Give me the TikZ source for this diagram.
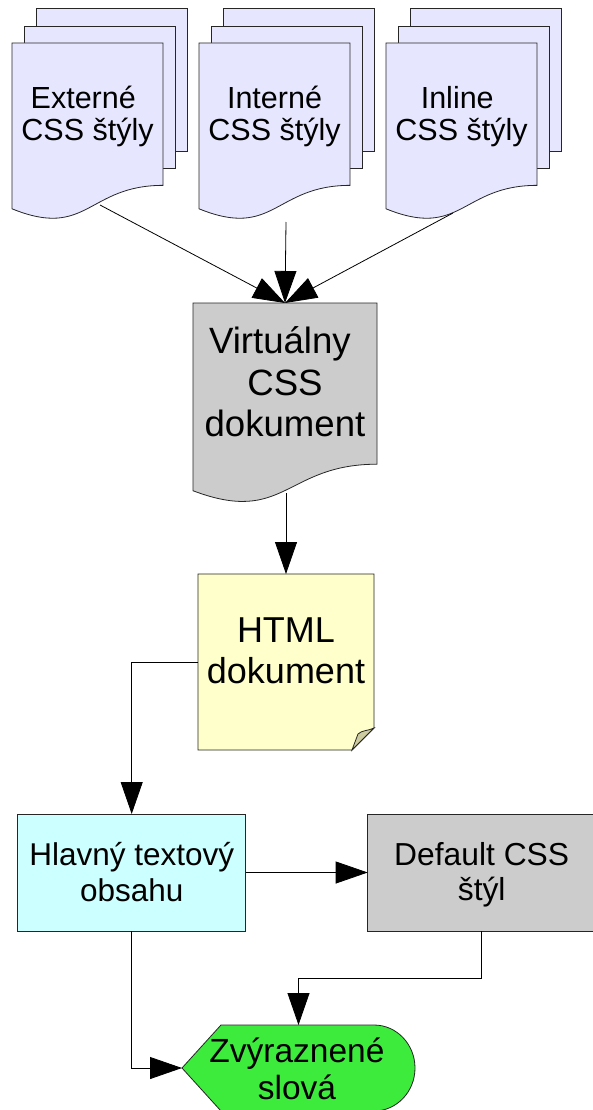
\documentclass[tikz,border=0pt]{standalone}
\usepackage{fontspec}
\setmainfont{Liberation Sans}
\usetikzlibrary{arrows.meta}

\definecolor{pagefill}{RGB}{230,230,255}
\definecolor{greyfill}{RGB}{204,204,204}
\definecolor{notefill}{RGB}{255,255,204}
\definecolor{foldfill}{RGB}{205,204,160}
\definecolor{cyanfill}{RGB}{204,255,255}
\definecolor{greenfill}{RGB}{61,235,61}

% several centred lines, baseline of the box = baseline of the first line
\newcommand\textlines[1]{\begin{tabular}[t]{@{}c@{}}#1\end{tabular}}

% flowchart "document" outline: fill, left, top, width, height
\newcommand\docshape[5]{%
  \path[shapeline,fill=#1] (#2,#3) -- ({#2+#4},#3) -- ({#2+#4},{#3+0.802*#5})
    .. controls ({#2+0.5*#4},{#3+0.802*#5}) and ({#2+0.5*#4},{#3+1.1075*#5})
    .. (#2,{#3+0.934*#5}) -- cycle;}

% a stack of three pages, given the left edge of the front page
\newcommand\docstack[1]{%
  \path[shapeline,fill=pagefill] ({#1+24},8) rectangle ({#1+175},151);
  \path[shapeline,fill=pagefill] ({#1+12},26) rectangle ({#1+163},168);
  \docshape{pagefill}{#1}{43}{151}{177.5}}

\begin{document}
\begin{tikzpicture}[x=1pt,y=-1pt,
  shapeline/.style={draw=black!85,line width=0.8pt},
  conn/.style={draw=black,line width=0.8pt,-{Triangle[length=32pt,width=22pt]}},
  box/.style 2 args={inner sep=0pt,outer sep=0pt,minimum width=#1,minimum height=#2},
  txt/.style 2 args={inner sep=0pt,anchor=base,font=\fontsize{#1}{#2}\selectfont}]

\fill[white] (0,0) rectangle (592,1110);
\useasboundingbox (0,0) rectangle (592,1110);

% --- three stacks of style sheets
\docstack{12}
\docstack{199}
\docstack{386}
\node[txt={30.5pt}{31.7pt}] (ext) at (87.5,108.3) {\textlines{Externé\hphantom{\ }\\CSS štýly}};
\node[txt={30.5pt}{31.7pt}] (int) at (274.5,108.3) {\textlines{Interné\\CSS štýly}};
\node[txt={30.5pt}{31.7pt}] (inl) at (461.5,108.3) {\textlines{Inline\hphantom{\ }\\CSS štýly}};
\coordinate (ext-out) at (100,205);
\coordinate (int-out) at (286,222);
\coordinate (inl-out) at (453,213);

% --- virtual CSS document
\node[box={184pt}{201pt}] (virt) at (285,403.5) {};
\docshape{greyfill}{193}{303}{184}{201}
\node[txt={36.6pt}{41.7pt}] (virt-text) at (285,353.3) {\textlines{Virtuálny\hphantom{\ }\\CSS\\dokument}};
\coordinate (virt-out) at (286,493);

% --- HTML document (note with folded corner)
\node[box={176pt}{176pt}] (html) at (286,662) {};
\path[shapeline,fill=notefill] (html.north west) -- (html.north east)
  -- ([yshift=22pt]html.south east) -- ([xshift=-22pt]html.south east)
  -- (html.south west) -- cycle;
\path[shapeline,fill=foldfill] ([yshift=22pt]html.south east)
  .. controls ++(-6,3) and ++(4,-4) .. ++(-16,6)
  -- ([xshift=-22pt]html.south east) -- cycle;
\node[txt={36pt}{41pt}] (html-text) at (286,642.5) {\textlines{HTML\\dokument}};

% --- main text content and default style
\node[box={228pt}{117pt},shapeline,fill=cyanfill] (main) at (131.7,872.5) {};
\node[txt={31.5pt}{36pt}] (main-text) at (131.7,865) {\textlines{Hlavný textový\\obsahu}};
\node[box={228pt}{117pt},shapeline,fill=greyfill] (default) at (481.7,872.5) {};
\node[txt={31.8pt}{35pt}] (default-text) at (481.7,865) {\textlines{Default CSS\\štýl}};

% --- highlighted words (display shape)
\node[box={233pt}{86pt}] (zvy) at (298.5,1068) {};
\path[shapeline,fill=greenfill] (zvy.west) -- (221,1025) -- (374,1025)
  arc[start angle=-90,end angle=90,x radius=41,y radius=43]
  -- (221,1111) -- cycle;
\node[txt={33.5pt}{37pt}] (zvy-text) at (297,1062) {\textlines{Zvýraznené\\slová}};

% --- connectors
\draw[conn] (ext-out) -- (virt.north);
\draw[conn] (int-out) -- (virt.north);
\draw[conn] (inl-out) -- (virt.north);
\draw[conn] (virt-out) -- (html.north);
\draw[conn] (html.west) -| (main.north);
\draw[conn] (main.east) -- (default.west);
\draw[conn] (default.south) -- ++(0,47) -| (zvy.north);
\draw[conn] (main.south) |- (zvy.west);
\end{tikzpicture}
\end{document}
